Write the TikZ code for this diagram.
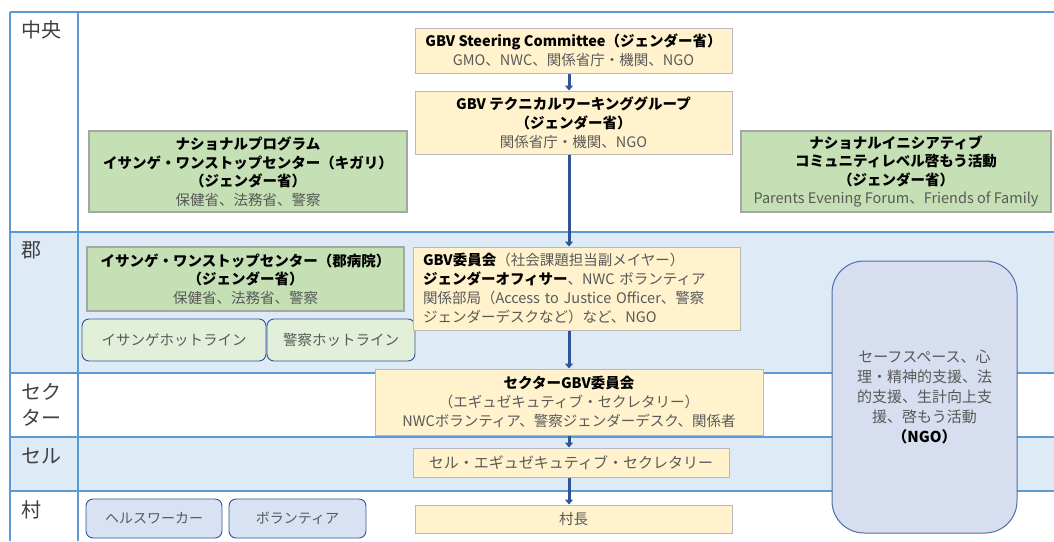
\documentclass[tikz,border=0pt]{standalone}
\usepackage{fontspec}
\setmainfont{Noto Sans CJK JP}
\usetikzlibrary{arrows.meta}
\definecolor{gridblue}{HTML}{5B9BD5}
\definecolor{rowblue}{HTML}{DEEBF7}
\definecolor{yfill}{HTML}{FFF2CC}
\definecolor{gfill}{HTML}{C5E0B4}
\definecolor{hfill}{HTML}{E2F0D9}
\definecolor{vfill}{HTML}{D9E2F3}
\definecolor{ngofill}{HTML}{D6DEEF}
\definecolor{dkblue}{HTML}{2F5597}
\definecolor{txtgray}{HTML}{595959}
\definecolor{lblgray}{HTML}{404040}
\newcommand\fsz[2]{\fontsize{#1}{#2}\selectfont}
\newcommand\gtxt[1]{{\color{txtgray}#1}}
\tikzset{
  ybox/.style={draw=gray!55, line width=1pt, fill=yfill, inner sep=0pt, align=center, font=\fsz{14.5}{19}},
  gbox/.style={draw=gray!70, line width=1.2pt, fill=gfill, inner sep=0pt, align=center, font=\fsz{14.5}{18.5}},
  hbox/.style={draw=dkblue, line width=0.9pt, rounded corners=7pt, fill=hfill, inner sep=0pt, align=center, text=txtgray, font=\fsz{14.5}{18}},
  vbox/.style={draw=dkblue, line width=0.9pt, rounded corners=7pt, fill=vfill, inner sep=0pt, align=center, text=txtgray, font=\fsz{14}{18}},
  ngobox/.style={draw=dkblue!85, line width=1pt, rounded corners=32pt, fill=ngofill, inner sep=0pt, align=center, text=txtgray, font=\fsz{15}{20}},
  lbl/.style={anchor=west, align=left, text=lblgray, font=\fsz{20}{26}, inner sep=0pt},
  gridline/.style={draw=gridblue, line width=1.6pt},
  flow/.style={draw=dkblue, line width=3pt, -{Triangle[width=8pt,length=5pt]}},
}
\begin{document}
\begin{tikzpicture}[x=1pt,y=-1pt]
\useasboundingbox (0,0) rectangle (1054,541);
% row backgrounds
\fill[rowblue] (10,232) rectangle (1054,373);
\fill[rowblue] (10,437) rectangle (1054,491);
% grid
\draw[gridline] (10,12) -- (1054,12);
\draw[gridline] (10,232) -- (1054,232);
\draw[gridline] (10,373) -- (1054,373);
\draw[gridline] (10,437) -- (1054,437);
\draw[gridline] (10,491) -- (1054,491);
\draw[gridline] (10,12) -- (10,541);
\draw[gridline] (78,12) -- (78,541);
% row labels
\node[lbl] (l1) at (21,30) {中央};
\node[lbl] (l2) at (21,250) {郡};
\node[lbl] (l3) at (21,405) {セク\\ター};
\node[lbl] (l4) at (21,456) {セル};
\node[lbl] (l5) at (21,510) {村};
% central boxes
\node[ybox, minimum width=317, minimum height=45] (sc) at (573.5,50.5)
  {\textbf{GBV Steering Committee（ジェンダー省）}\\\gtxt{GMO、NWC、関係省庁・機関、NGO}};
\node[ybox, minimum width=317, minimum height=63] (twg) at (573.5,122.5)
  {\textbf{GBV テクニカルワーキンググループ}\\\textbf{（ジェンダー省）}\\\gtxt{関係省庁・機関、NGO}};
\node[gbox, minimum width=318, minimum height=81] (np) at (248,171.5)
  {\textbf{ナショナルプログラム}\\\textbf{イサンゲ・ワンストップセンター（キガリ）}\\\textbf{（ジェンダー省）}\\\gtxt{保健省、法務省、警察}};
\node[gbox, minimum width=310, minimum height=81] (ni) at (896,171.5)
  {\textbf{ナショナルイニシアティブ}\\\textbf{コミュニティレベル啓もう活動}\\\textbf{（ジェンダー省）}\\\gtxt{Parents Evening Forum、Friends of Family}};
% district
\node[gbox, minimum width=317, minimum height=64] (osc) at (245.5,279)
  {\textbf{イサンゲ・ワンストップセンター（郡病院）}\\\textbf{（ジェンダー省）}\\\gtxt{保健省、法務省、警察}};
\node[hbox, minimum width=184, minimum height=42] (h1) at (174,340) {イサンゲホットライン};
\node[hbox, minimum width=148, minimum height=42] (h2) at (341,340) {警察ホットライン};
\node[ybox, text width=307, inner xsep=10pt, minimum height=83, align=left] (gbv) at (576.5,288.5)
  {\textbf{GBV委員会}\gtxt{（社会課題担当副メイヤー）}\\\textbf{ジェンダーオフィサー}\gtxt{、NWC ボランティア}\\\gtxt{関係部局（Access to Justice Officer、警察}\\\gtxt{ジェンダーデスクなど）など、NGO}};
% sector
\node[ybox, minimum width=388, minimum height=66] (sector) at (569,402)
  {\textbf{セクターGBV委員会}\\\gtxt{（エギュゼキュティブ・セクレタリー）}\\\gtxt{NWCボランティア、警察ジェンダーデスク、関係者}};
% cell
\node[ybox, minimum width=316, minimum height=29, font=\fsz{15}{19}] (cell) at (571,462.5)
  {\gtxt{セル・エギュゼキュティブ・セクレタリー}};
% village
\node[ybox, minimum width=317, minimum height=28] (vil) at (573.5,519) {\gtxt{村長}};
\node[vbox, minimum width=136, minimum height=39] (hw) at (154,518.5) {ヘルスワーカー};
\node[vbox, minimum width=137, minimum height=39] (vol) at (297.5,518.5) {ボランティア};
% NGO
\node[ngobox, minimum width=185, minimum height=272] (ngo) at (924.5,397)
  {セーフスペース、心\\理・精神的支援、法\\的支援、生計向上支\\援、啓もう活動\\\textcolor{black}{\textbf{（NGO）}}};
% arrows
\draw[flow] (sc.south -| sector.center) -- (twg.north -| sector.center);
\draw[flow] (twg.south -| sector.center) -- (gbv.north -| sector.center);
\draw[flow] (gbv.south -| sector.center) -- (sector.north);
\draw[flow] (sector.south) -- (cell.north -| sector.center);
\draw[flow] (cell.south -| sector.center) -- (vil.north -| sector.center);
\end{tikzpicture}
\end{document}
